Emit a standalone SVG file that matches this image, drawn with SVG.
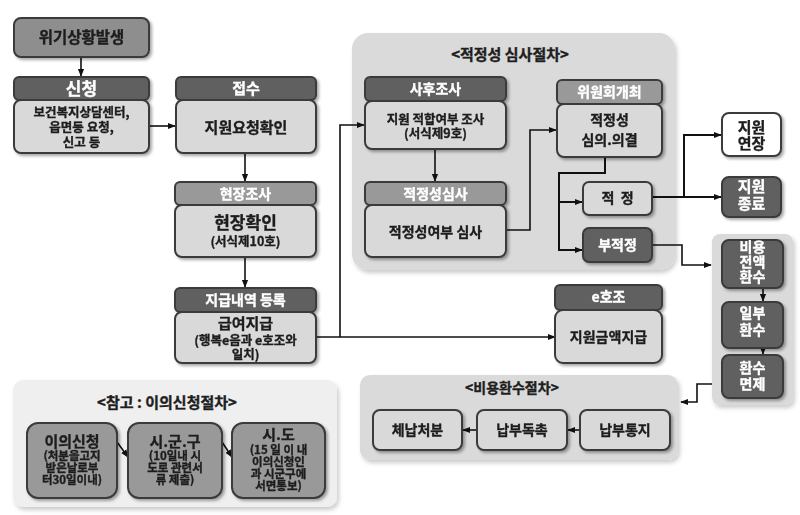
<svg xmlns="http://www.w3.org/2000/svg" width="800" height="515" viewBox="0 0 800 515">
<defs>
<filter id="sh" x="-10%" y="-10%" width="130%" height="130%"><feDropShadow dx="2" dy="2" stdDeviation="1.5" flood-color="#000" flood-opacity="0.35"/></filter>
<filter id="gsh" x="-5%" y="-5%" width="115%" height="115%"><feDropShadow dx="2" dy="3" stdDeviation="2" flood-color="#000" flood-opacity="0.2"/></filter>
<marker id="ar" viewBox="0 0 10 10" refX="9" refY="5" markerWidth="8" markerHeight="8" markerUnits="userSpaceOnUse" orient="auto"><path d="M0,1 L10,5 L0,9 z" fill="#111"/></marker>
<style>
text{font-family:"Noto Sans CJK KR","Noto Sans",sans-serif;font-weight:bold;text-anchor:middle;fill:#1e1e1e;stroke:#1e1e1e;stroke-width:0.35}
.b{stroke:#3a3a3a;stroke-width:2}
.dk{fill:#606060}
.md{fill:#999999}
.lt{fill:#d9d9d9}
.wh{fill:#ffffff}
.grp{fill:#dadada}
text.w{fill:#ffffff;stroke:#ffffff}
.t15{font-size:15px}
.t14{font-size:14px}
.t12{font-size:12.5px}
.t11{font-size:11.5px}
.c{fill:none;stroke:#111;stroke-width:1.6}
.pre{white-space:pre}
</style>
</defs>

<g id="groups">
<rect id="grp-suit" x="352" y="33" width="323" height="237" rx="16" class="grp" filter="url(#gsh)"/>
<text x="510" y="60" class="t15">&lt;적정성 심사절차&gt;</text>
<rect id="grp-refund-col" x="712" y="234" width="81" height="171" rx="8" class="grp" filter="url(#gsh)"/>
<rect id="grp-refund" x="360" y="375" width="318" height="85" rx="10" class="grp" filter="url(#gsh)"/>
<text x="512" y="393" class="t14">&lt;비용환수절차&gt;</text>
<rect id="grp-appeal" x="13" y="380" width="324" height="127" rx="10" fill="#efefef" filter="url(#gsh)"/>
<text x="167" y="408" class="t15">&lt;참고 : 이의신청절차&gt;</text>
</g>

<g id="connectors">
<path class="c" d="M81,57 V76" marker-end="url(#ar)"/>
<path class="c" d="M149,126 H175" marker-end="url(#ar)"/>
<path class="c" d="M245,153 V181" marker-end="url(#ar)"/>
<path class="c" d="M245,257 V287" marker-end="url(#ar)"/>
<path class="c" d="M316,337 H555" marker-end="url(#ar)"/>
<path class="c" d="M340,337 V125 H364" marker-end="url(#ar)"/>
<path class="c" d="M435,149 V181" marker-end="url(#ar)"/>
<path class="c" d="M506,230 H530 V130 H556" marker-end="url(#ar)"/>
<path class="c" style="stroke-width:2" d="M605,157 V173 H559 V250 H582" marker-end="url(#ar)"/>
<path class="c" style="stroke-width:2" d="M559,202 H582" marker-end="url(#ar)"/>
<path class="c" style="stroke-width:2" d="M652,197 H684 V135 H721" marker-end="url(#ar)"/>
<path class="c" style="stroke-width:2" d="M684,197 H721" marker-end="url(#ar)"/>
<path class="c" d="M652,245 H682 V265 H711" marker-end="url(#ar)"/>
<path class="c" d="M763,288 V301" marker-end="url(#ar)"/>
<path class="c" d="M763,348 V354" marker-end="url(#ar)"/>
<path class="c" d="M712,384 H697 V402 H681" marker-end="url(#ar)"/>
<path class="c" d="M580,430 H568" marker-end="url(#ar)"/>
<path class="c" d="M477,430 H463" marker-end="url(#ar)"/>
<path class="c" d="M117,442 L128,457" marker-end="url(#ar)"/>
<path class="c" d="M222,442 L232,457" marker-end="url(#ar)"/>
</g>

<g id="n-crisis" filter="url(#sh)">
<rect x="14" y="18" width="135" height="39" rx="7" fill="#8e8e8e" class="b"/>
<text x="81.5" y="43" style="font-size:15.5px">위기상황발생</text>
</g>

<g id="n-apply" filter="url(#sh)">
<rect x="14" y="77" width="135" height="23" rx="5" class="dk b"/>
<rect x="14" y="100" width="135" height="53" rx="7" class="lt b"/>
<text x="81.5" y="95" class="w" style="font-size:17px">신청</text>
<text class="t12"><tspan x="81.5" y="117">보건복지상담센터,</tspan><tspan x="81.5" y="132">읍면동 요청,</tspan><tspan x="81.5" y="147">신고 등</tspan></text>
</g>

<g id="n-receive" filter="url(#sh)">
<rect x="176" y="77" width="140" height="23" rx="5" class="dk b"/>
<rect x="176" y="100" width="140" height="53" rx="7" class="lt b"/>
<text x="246" y="94" class="t15 w">접수</text>
<text x="246" y="133" class="t15">지원요청확인</text>
</g>

<g id="n-site" filter="url(#sh)">
<rect x="175" y="182" width="141" height="23" rx="5" class="md b"/>
<rect x="175" y="205" width="141" height="52" rx="7" class="lt b"/>
<text x="245.5" y="199" class="t14 w">현장조사</text>
<text style="font-size:17px"><tspan x="245.5" y="229">현장확인</tspan><tspan x="245.5" y="246" style="font-size:12.5px">(서식제10호)</tspan></text>
</g>

<g id="n-pay" filter="url(#sh)">
<rect x="175" y="288" width="141" height="24" rx="5" class="dk b"/>
<rect x="175" y="312" width="141" height="51" rx="7" class="lt b"/>
<text x="245.5" y="305" class="t14 w">지급내역 등록</text>
<text class="t15"><tspan x="245.5" y="329">급여지급</tspan><tspan x="245.5" y="345" style="font-size:12.5px">(행복e음과 e호조와</tspan><tspan x="245.5" y="359" style="font-size:12.5px">일치)</tspan></text>
</g>

<g id="n-post" filter="url(#sh)">
<rect x="365" y="77" width="141" height="24" rx="5" class="dk b"/>
<rect x="365" y="101" width="141" height="48" rx="7" class="lt b"/>
<text x="435.5" y="94" class="t14 w">사후조사</text>
<text class="t12"><tspan x="435.5" y="124">지원 적합여부 조사</tspan><tspan x="435.5" y="138">(서식제9호)</tspan></text>
</g>

<g id="n-review" filter="url(#sh)">
<rect x="365" y="182" width="141" height="23" rx="5" class="md b"/>
<rect x="365" y="205" width="141" height="52" rx="7" class="lt b"/>
<text x="435.5" y="199" class="t14 w">적정성심사</text>
<text x="435.5" y="237" class="t14">적정성여부 심사</text>
</g>

<g id="n-committee" filter="url(#sh)">
<rect x="557" y="80" width="105" height="24" rx="5" class="md b"/>
<rect x="557" y="104" width="105" height="53" rx="7" class="lt b"/>
<text x="609.5" y="97" class="t14 w">위원회개최</text>
<text class="t14"><tspan x="609.5" y="125">적정성</tspan><tspan x="609.5" y="145">심의.의결</tspan></text>
</g>

<g id="n-fit" filter="url(#sh)">
<rect x="583" y="182" width="69" height="33" rx="6" class="lt b"/>
<text x="617.5" y="203" class="t14 pre">적  정</text>
</g>

<g id="n-unfit" filter="url(#sh)">
<rect x="583" y="228" width="69" height="34" rx="6" class="dk b"/>
<text x="617.5" y="250" class="t14 w">부적정</text>
</g>

<g id="n-extend" filter="url(#sh)">
<rect x="722" y="113" width="59" height="43" rx="7" class="wh b"/>
<text class="t15"><tspan x="751.5" y="133">지원</tspan><tspan x="751.5" y="149">연장</tspan></text>
</g>

<g id="n-end" filter="url(#sh)">
<rect x="722" y="177" width="59" height="40" rx="7" class="dk b"/>
<text class="t15 w"><tspan x="751.5" y="192">지원</tspan><tspan x="751.5" y="209">종료</tspan></text>
</g>

<g id="n-full" filter="url(#sh)">
<rect x="722" y="240" width="61" height="48" rx="7" class="dk b"/>
<text class="t14 w"><tspan x="752.5" y="252">비용</tspan><tspan x="752.5" y="267">전액</tspan><tspan x="752.5" y="282">환수</tspan></text>
</g>

<g id="n-partial" filter="url(#sh)">
<rect x="722" y="302" width="61" height="46" rx="7" class="dk b"/>
<text class="t14 w"><tspan x="752.5" y="318">일부</tspan><tspan x="752.5" y="335">환수</tspan></text>
</g>

<g id="n-exempt" filter="url(#sh)">
<rect x="722" y="355" width="61" height="43" rx="7" class="dk b"/>
<text class="t14 w"><tspan x="752.5" y="373">환수</tspan><tspan x="752.5" y="389">면제</tspan></text>
</g>

<g id="n-ehojo" filter="url(#sh)">
<rect x="555" y="285" width="107" height="25" rx="5" class="dk b"/>
<rect x="555" y="310" width="107" height="53" rx="8" class="lt b"/>
<text x="608.5" y="302" class="t14 w">e호조</text>
<text x="608.5" y="342" class="t14">지원금액지급</text>
</g>

<g id="n-seize" filter="url(#sh)">
<rect x="373" y="410" width="89" height="40" rx="7" class="lt b"/>
<text x="417.5" y="435" class="t14">체납처분</text>
</g>

<g id="n-urge" filter="url(#sh)">
<rect x="477" y="410" width="90" height="40" rx="7" class="lt b"/>
<text x="522" y="435" class="t14">납부독촉</text>
</g>

<g id="n-notice" filter="url(#sh)">
<rect x="580" y="410" width="90" height="40" rx="7" class="lt b"/>
<text x="625" y="435" class="t14">납부통지</text>
</g>

<g id="n-appeal" filter="url(#sh)">
<rect x="27" y="423" width="90" height="75" rx="11" class="md b"/>
<text class="t15"><tspan x="72" y="447">이의신청</tspan><tspan x="72" y="460" class="t11">(처분을고지</tspan><tspan x="72" y="472" class="t11">받은날로부</tspan><tspan x="72" y="484" class="t11">터30일이내)</tspan></text>
</g>

<g id="n-sigungu" filter="url(#sh)">
<rect x="128" y="423" width="94" height="75" rx="11" class="md b"/>
<text class="t15"><tspan x="175" y="447">시.군.구</tspan><tspan x="175" y="460" class="t11">(10일내 시</tspan><tspan x="175" y="472" class="t11">도로 관련서</tspan><tspan x="175" y="484" class="t11">류 제출)</tspan></text>
</g>

<g id="n-sido" filter="url(#sh)">
<rect x="232" y="423" width="93" height="75" rx="11" class="md b"/>
<text class="t15"><tspan x="278.5" y="440">시.도</tspan><tspan x="278.5" y="454" class="t11">(15 일 이 내</tspan><tspan x="278.5" y="466" class="t11">이의신청인</tspan><tspan x="278.5" y="478" class="t11">과 시군구에</tspan><tspan x="278.5" y="490" class="t11">서면통보)</tspan></text>
</g>
</svg>
